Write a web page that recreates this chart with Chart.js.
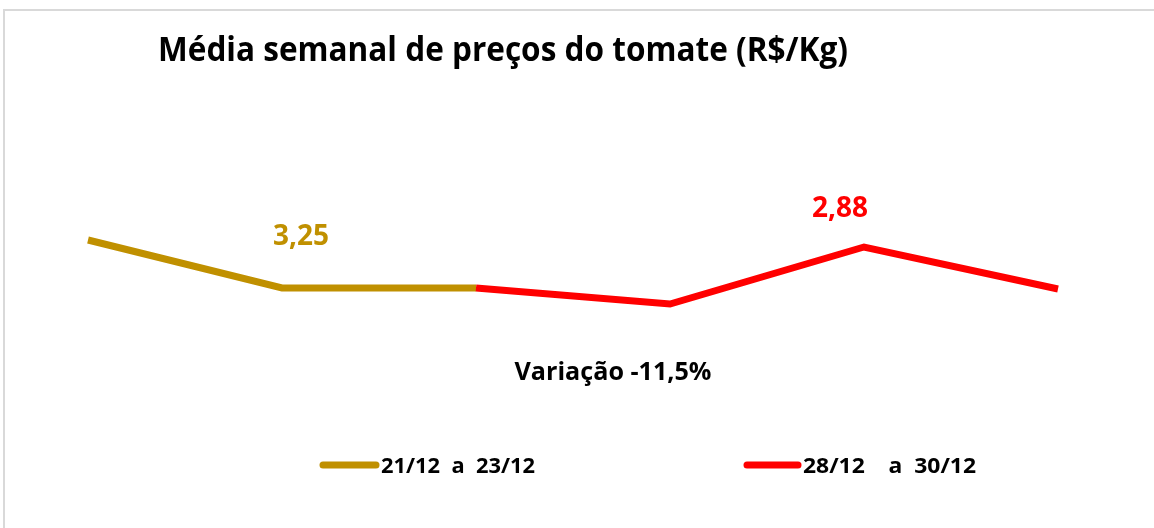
<!DOCTYPE html>
<html>
<head>
<meta charset="utf-8">
<script src="https://cdn.jsdelivr.net/npm/chart.js@4/dist/chart.umd.min.js"></script>
<style>
    html, body { margin: 0; padding: 0; background: #fff; }
    .wrap { position: relative; width: 1154px; height: 528px; overflow: hidden; }
    .frame { position: absolute; left: 3px; top: 9px; width: 1200px; height: 600px;
             border-left: 2px solid #d9d9d9; border-top: 2px solid #d9d9d9; }
    canvas { position: absolute; left: 0; top: 0; }
</style>
</head>
<body>
<div class="wrap">
    <div class="frame"></div>
    <canvas id="myChart" width="1154" height="528"></canvas>
</div>
<script>
const days = ['1', '2', '3', '4', '5', '6']
const week1Prices = [3.30, 3.06, 3.06, null, null, null]
const week2Prices = [null, null, 3.06, 2.98, 3.265, 3.055]
const week1Label = '21/12  a  23/12'
const week2Label = '28/12    a  30/12'
const week1Average = '3,25'
const week2Average = '2,88'
const variation = 'Variação -11,5%'

const GOLD = '#c09000'
const RED = '#ff0000'
const FONT = '"Open Sans", sans-serif'
const CAP = 0.714

// draw bold text with a given cap height, squeezed to the given width
const drawText = (ctx, text, x, y, capHeight, width, align) => {
    const size = capHeight / CAP
    ctx.font = `bold ${size.toFixed(1)}px ${FONT}`
    const sx = width / ctx.measureText(text).width
    ctx.save()
    ctx.translate(x, y)
    ctx.scale(sx, 1)
    ctx.textAlign = align
    ctx.textBaseline = 'alphabetic'
    ctx.fillText(text, 0, 0)
    ctx.restore()
}

const textPlugin = {
    id: 'texts',
    afterDraw: (chart) => {
        const ctx = chart.ctx
        const x = chart.scales.x
        const y = chart.scales.y
        ctx.save()

        ctx.fillStyle = '#000'
        drawText(ctx, 'Média semanal de preços do tomate (R$/Kg)', 158, 61, 24, 690, 'left')

        // averages over the points
        ctx.fillStyle = GOLD
        drawText(ctx, week1Average, x.getPixelForValue(1) + 19, y.getPixelForValue(week1Prices[1]) - 43, 20.5, 56, 'center')
        ctx.fillStyle = RED
        drawText(ctx, week2Average, x.getPixelForValue(4) - 24, y.getPixelForValue(week2Prices[4]) - 30, 20.5, 56, 'center')

        ctx.fillStyle = '#000'
        drawText(ctx, variation, 613, 380, 17.5, 197, 'center')

        // legend
        const items = [
            {label: week1Label, color: GOLD, x0: 323, x1: 376, width: 154},
            {label: week2Label, color: RED, x0: 747, x1: 798, width: 173}
        ]
        for (const item of items) {
            ctx.strokeStyle = item.color
            ctx.lineWidth = 7
            ctx.lineCap = 'round'
            ctx.beginPath()
            ctx.moveTo(item.x0, 465)
            ctx.lineTo(item.x1, 465)
            ctx.stroke()
            ctx.fillStyle = '#000'
            drawText(ctx, item.label, item.x1 + 5, 473, 15.5, item.width, 'left')
        }
        ctx.restore()
    }
}

const ctx = document.getElementById('myChart').getContext('2d')
new Chart(ctx, {
    type: 'line',
    data: {
        labels: days,
        datasets: [{
            label: week1Label,
            data: week1Prices,
            borderColor: GOLD,
            borderWidth: 7,
            pointRadius: 0,
            order: 2
        }, {
            label: week2Label,
            data: week2Prices,
            borderColor: RED,
            borderWidth: 7,
            pointRadius: 0,
            order: 1
        }]
    },
    options: {
        responsive: false,
        animation: false,
        layout: {
            padding: {left: 88, right: 96, top: 100, bottom: 128}
        },
        scales: {
            x: {display: false, offset: false},
            y: {display: false, min: 2.5, max: 4.0}
        },
        plugins: {
            legend: {display: false},
            tooltip: {enabled: false}
        }
    },
    plugins: [textPlugin]
})
</script>
</body>
</html>
